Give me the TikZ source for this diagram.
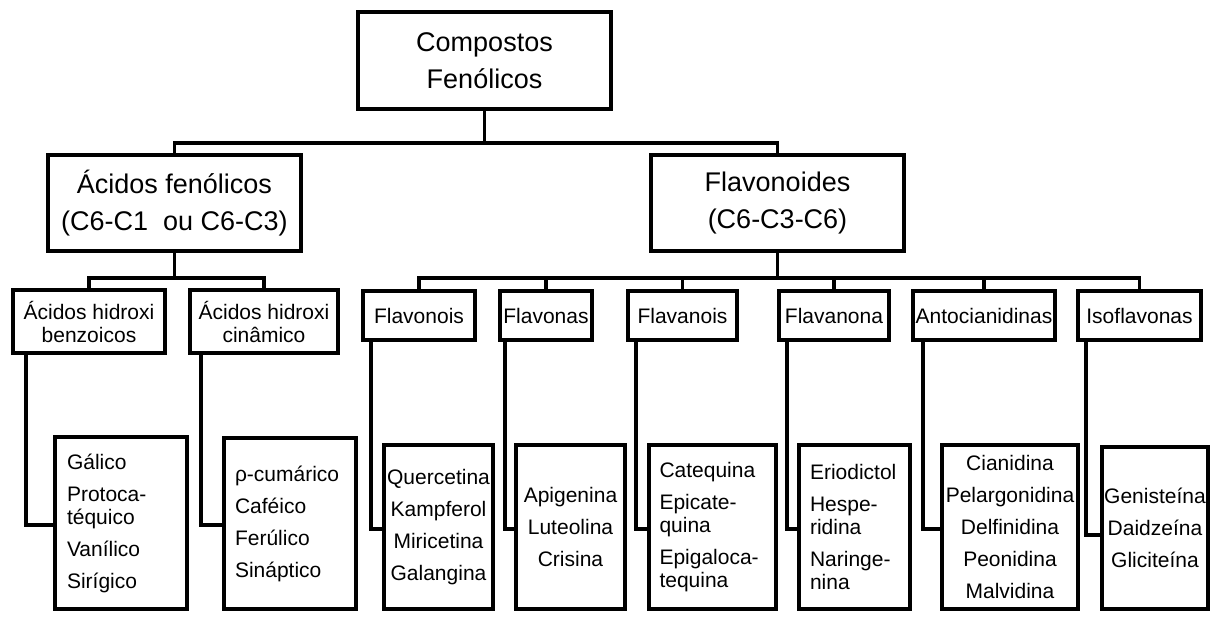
\documentclass[tikz,border=0pt]{standalone}
\usepackage{fontspec}
\setmainfont{Liberation Sans}
\begin{document}
\begin{tikzpicture}[x=1pt,y=-1pt,
  mainbox/.style={draw, line width=4.6pt, rectangle, inner sep=0pt, align=center,
    minimum width=253pt, minimum height=96pt, font=\fontsize{27}{37}\selectfont},
  subbox/.style={draw, line width=3.8pt, rectangle, inner sep=0pt, align=center,
    minimum height=49pt, font=\fontsize{21}{23}\selectfont},
  leafbox/.style={draw, line width=3.8pt, rectangle, inner sep=0pt,
    minimum height=164pt, font=\fontsize{21}{23}\selectfont},
  conn/.style={line width=3.8pt},
]
\useasboundingbox (0,0) rectangle (1214,617);

% level 0
\node[mainbox, minimum height=97pt] (root) at (484.5,60.5) {Compostos\\Fenólicos};
% level 1
\node[mainbox] (acf) at (174.5,203) {Ácidos fenólicos\\(C6-C1~~ou C6-C3)};
\node[mainbox] (flv) at (777.5,203) {Flavonoides\\(C6-C3-C6)};
% level 2
\node[subbox, minimum width=152pt, minimum height=63pt] (hb1) at (89,321.5) {Ácidos hidroxi\\benzoicos};
\node[subbox, minimum width=148pt, minimum height=63pt] (hb2) at (264,321.5) {Ácidos hidroxi\\cinâmico};
\node[subbox, minimum width=112pt] (fl1) at (419,315.5) {Flavonois};
\node[subbox, minimum width=92pt]  (fl2) at (546,315.5) {Flavonas};
\node[subbox, minimum width=109pt] (fl3) at (682.5,315.5) {Flavanois};
\node[subbox, minimum width=110pt] (fl4) at (834,315.5) {Flavanona};
\node[subbox, minimum width=142pt] (fl5) at (984,315.5) {Antocianidinas};
\node[subbox, minimum width=123pt] (fl6) at (1139.5,315.5) {Isoflavonas};
% level 3
\node[leafbox, minimum width=132pt, minimum height=172pt, text width=108pt, align=left] (gal) at (121,523)
  {Gálico\\[9pt]Protoca-\\téquico\\[9pt]Vanílico\\[9pt]Sirígico};
\node[leafbox, minimum width=132pt, minimum height=171pt, text width=110pt, align=left] (cum) at (290,523.5)
  {ρ-cumárico\\[9pt]Caféico\\[9pt]Ferúlico\\[9pt]Sináptico};
\node[leafbox, minimum width=109pt, align=center] (que) at (438.5,527)
  {Quercetina\\[9pt]Kampferol\\[9pt]Miricetina\\[9pt]Galangina};
\node[leafbox, minimum width=109pt, align=center] (api) at (570.5,527)
  {Apigenina\\[9pt]Luteolina\\[9pt]Crisina};
\node[leafbox, minimum width=127pt, text width=106pt, align=left] (cat) at (712.5,527)
  {Catequina\\[9pt]Epicate-\\quina\\[9pt]Epigaloca-\\tequina};
\node[leafbox, minimum width=111pt, text width=89pt, align=left] (eri) at (854.5,527)
  {Eriodictol\\[9pt]Hespe-\\ridina\\[9pt]Naringe-\\nina};
\node[leafbox, minimum width=136pt, align=center] (cia) at (1010,527)
  {Cianidina\\[9pt]Pelargonidina\\[9pt]Delfinidina\\[9pt]Peonidina\\[9pt]Malvidina};
\node[leafbox, minimum width=106pt, minimum height=162pt, align=center] (gen) at (1155,528)
  {Genisteína\\[9pt]Daidzeína\\[9pt]Gliciteína};

% buses
\coordinate (bus0) at (0,143);
\coordinate (bus1) at (0,278);
\draw[conn] (root.south) -- (root.south |- bus0);
\draw[conn] (acf.north) -- (acf.north |- bus0) -- (flv.north |- bus0) -- (flv.north);

\draw[conn] (acf.south) -- (acf.south |- bus1);
\draw[conn] (hb1.north) -- (hb1.north |- bus1) -- (hb2.north |- bus1) -- (hb2.north);

\draw[conn] (flv.south) -- (flv.south |- bus1);
\draw[conn] (fl1.north) -- (fl1.north |- bus1) -- (fl6.north |- bus1) -- (fl6.north);
\draw[conn] (fl2.north) -- (fl2.north |- bus1);
\draw[conn] (fl3.north) -- (fl3.north |- bus1);
\draw[conn] (fl4.north) -- (fl4.north |- bus1);
\draw[conn] (fl5.north) -- (fl5.north |- bus1);

% elbows to leaves
\draw[conn] ([xshift=15pt]hb1.south west) |- ([yshift=-2pt]gal.west);
\draw[conn] ([xshift=13pt]hb2.south west) |- ([yshift=-1.5pt]cum.west);
\draw[conn] ([xshift=10pt]fl1.south west) |- ([yshift=-2pt]que.west);
\draw[conn] ([xshift=7pt]fl2.south west) |- ([yshift=-2pt]api.west);
\draw[conn] ([xshift=10pt]fl3.south west) |- ([yshift=-2pt]cat.west);
\draw[conn] ([xshift=10pt]fl4.south west) |- ([yshift=-2pt]eri.west);
\draw[conn] ([xshift=12pt]fl5.south west) |- ([yshift=-2pt]cia.west);
\draw[conn] ([xshift=10pt]fl6.south west) |- ([yshift=-7pt]gen.west);
\end{tikzpicture}
\end{document}
